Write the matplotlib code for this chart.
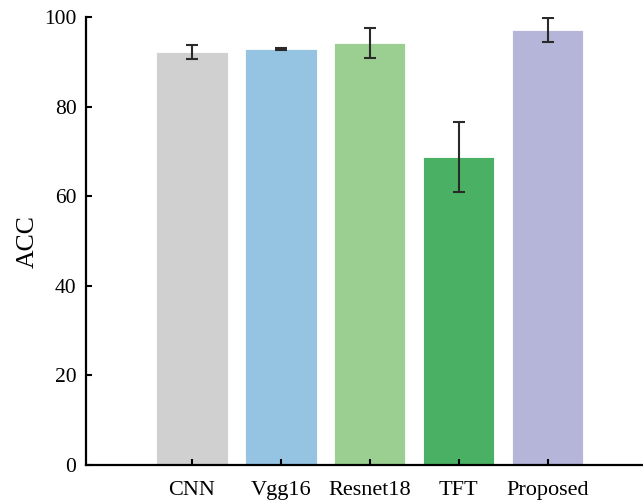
import matplotlib
matplotlib.use("Agg")
import matplotlib.pyplot as plt

categories = ["CNN", "Vgg16", "Resnet18", "TFT", "Proposed"]
acc = [92.2, 92.8, 94.2, 68.7, 97.1]
err = [1.6, 0.2, 3.4, 7.8, 2.7]
colors = ["#CFD0CF", "#95C4E2", "#9ACF91", "#4AB063", "#B4B5D9"]

plt.rcParams['font.family'] = ['Liberation Serif', 'DejaVu Serif']

fig = plt.figure(figsize=(6.43, 5.04), dpi=100)
ax = fig.add_axes([0.134, 0.0774, 0.866, 0.8886])

x = list(range(len(categories)))
ax.bar(x, acc, width=0.8, color=colors, edgecolor="white", linewidth=0.6,
       yerr=err, capsize=4, error_kw=dict(ecolor="#2a2a2a", elinewidth=1.5, capthick=1.5))

ax.set_xlim(-1.19, 5.07)
ax.set_ylim(0, 100)
ax.set_yticks([0, 20, 40, 60, 80, 100])
ax.set_xticks(x)
ax.set_xticklabels(categories)
ax.set_ylabel("ACC", fontsize=18.5)
ax.yaxis.set_label_coords(-0.086, 0.5)
ax.tick_params(direction="in", length=4, width=1.5)
ax.tick_params(axis="x", labelsize=16, pad=11.5)
ax.tick_params(axis="y", labelsize=15.5, pad=7)
for s in ["top", "right"]:
    ax.spines[s].set_visible(False)
for s in ["left", "bottom"]:
    ax.spines[s].set_linewidth(1.6)

fig.savefig("out.png", dpi=100)
